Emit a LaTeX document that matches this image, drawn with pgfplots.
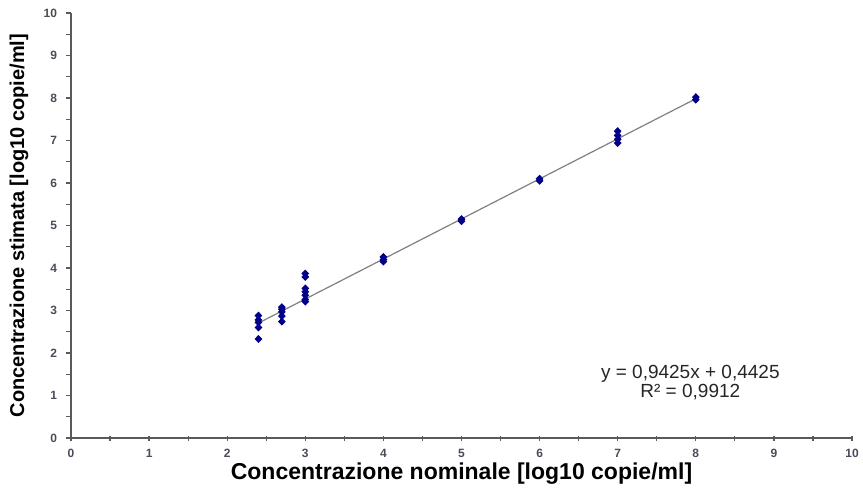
\documentclass[border=0pt]{standalone}
\usepackage{fontspec}
\setmainfont{Liberation Sans}
\usepackage{pgfplots}
\pgfplotsset{compat=1.18}
\definecolor{punti}{HTML}{000088}
\definecolor{retta}{HTML}{808080}
\definecolor{assi}{HTML}{5A5A5A}
\definecolor{cifre}{HTML}{4A4A5A}
\begin{document}
\begin{tikzpicture}
\begin{axis}[
    scale only axis,
    width=390.5pt, height=212.5pt,
    xmin=0, xmax=10, ymin=0, ymax=10,
    axis lines=left,
    axis line style={-, assi, line width=0.9pt},
    xtick={0,1,...,10}, ytick={0,1,...,10},
    minor x tick num=1, minor y tick num=1,
    xtick align=center, ytick align=outside,
    major tick length=2.5pt, minor tick length=2.5pt,
    tick style={assi, line width=0.6pt},
    ticklabel style={font=\fontsize{6}{7}\selectfont\bfseries, text=cifre},
    xticklabel style={yshift=-1pt},
    yticklabel style={xshift=-1pt},
    /pgf/number format/assume math mode=true,
    xlabel={Concentrazione nominale [log10 copie/ml]},
    ylabel={Concentrazione stimata [log10 copie/ml]},
    xlabel style={font=\fontsize{11.5}{13}\selectfont\bfseries,
        at={(axis description cs:0.5,0)}, anchor=center, yshift=-18pt},
    ylabel style={font=\fontsize{10}{12}\selectfont\bfseries,
        at={(axis description cs:0,0.5)}, anchor=center, yshift=26pt},
    clip=false,
]
\coordinate (O) at (axis cs:0,0);

% retta di regressione
\addplot[retta, line width=0.6pt] coordinates {(2.4,2.7045) (8,7.9825)};

% misure
\addplot[only marks, mark=diamond*, mark size=1.7pt, color=punti,
         mark options={xscale=1.3}] coordinates {
    (2.4,2.88) (2.4,2.78) (2.4,2.72) (2.4,2.60) (2.4,2.33)
    (2.7,3.08) (2.7,3.03) (2.7,2.97) (2.7,2.87) (2.7,2.74)
    (3,3.87) (3,3.79) (3,3.52) (3,3.44) (3,3.36) (3,3.26) (3,3.21)
    (4,4.26) (4,4.20) (4,4.15)
    (5,5.15) (5,5.10)
    (6,6.10) (6,6.05)
    (7,7.22) (7,7.12) (7,7.03) (7,6.94)
    (8,8.02) (8,7.96)
};

\node[font=\fontsize{9.5}{9.5}\selectfont, align=center, text=black!85]
    at (axis cs:7.93,1.30) {y = 0,9425x + 0,4425\\R² = 0,9912};
\end{axis}
\pgfresetboundingbox
\path[use as bounding box] (O) ++(-35.5pt,-31pt) rectangle ++(431.5pt,250pt);
\end{tikzpicture}
\end{document}
